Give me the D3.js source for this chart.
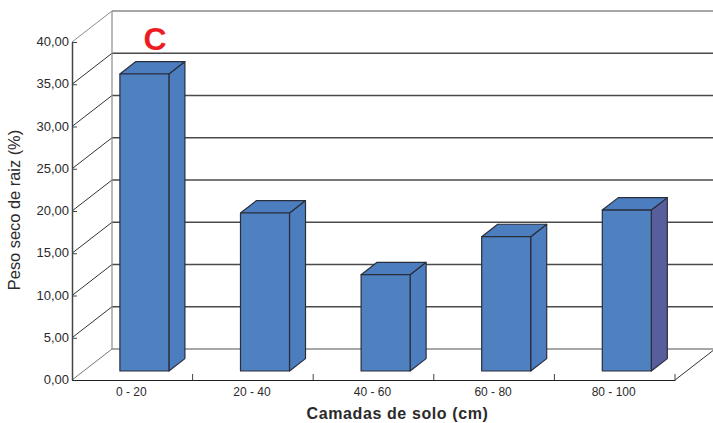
<!DOCTYPE html>
<html>
<head>
<meta charset="utf-8">
<script src="https://cdn.jsdelivr.net/npm/d3@7"></script>
<style>
html,body{margin:0;padding:0;background:#fff}
svg{display:block}
text{font-family:"Liberation Sans",Arial,sans-serif;fill:#2b2a2b}
</style>
</head>
<body>
<svg id="chart" width="713" height="423"></svg>
<script>
const categories = ["0 - 20","20 - 40","40 - 60","60 - 80","80 - 100"];
const rootWeight = [35.15,18.7,11.4,15.9,19.05];
const yTicks = [0,5,10,15,20,25,30,35,40];
const sideColors = ["#4c7ebf","#4c7ebf","#4c7ebf","#4c7ebf","#585e9c"];

const svg = d3.select("#chart");
const x = d3.scaleBand().domain(categories).range([72,675]);
const y = d3.scaleLinear().domain([0,40]).range([380,42]);

// Oblique projection: depth 0 is the front plane, depth 1 the back wall
const DX = 40, DY = -31;
const px = (xv,d) => xv + DX*d;
const py = (yv,d) => yv + DY*d;
const fmt = v => d3.format(".2f")(v).replace(".",",");

// Back wall, side wall and floor
const grid = svg.append("g").attr("fill","none");
yTicks.forEach(t=>{
  const top = t===40, bottom = t===0;
  const c = top ? "#8c8c8c" : (bottom ? "#777" : "#333");
  grid.append("line").attr("x1",px(72,0)).attr("y1",y(t))
    .attr("x2",px(72,1)).attr("y2",py(y(t),1))
    .attr("stroke",c).attr("stroke-width",1);
  grid.append("line").attr("x1",px(72,1)).attr("y1",py(y(t),1))
    .attr("x2",713).attr("y2",py(y(t),1))
    .attr("stroke",top||bottom ? "#8a8a8a" : "#4a4a4a").attr("stroke-width",1.3);
});
grid.append("line").attr("x1",px(72,1)).attr("y1",py(y(0),1))
  .attr("x2",px(72,1)).attr("y2",py(y(40),1))
  .attr("stroke","#8c8c8c").attr("stroke-width",1.2);
grid.append("line").attr("x1",675).attr("y1",380)
  .attr("x2",px(675,1)).attr("y2",py(380,1))
  .attr("stroke","#333").attr("stroke-width",1);

// Axes
const yAxis = d3.axisLeft(y).tickValues(yTicks).tickFormat(fmt).tickSize(0).tickPadding(3);
const gy = svg.append("g").attr("transform","translate(72,0)").call(yAxis);
gy.select(".domain").attr("stroke","#444").attr("stroke-width",1.5);
gy.selectAll("text").attr("font-size",13).attr("dy","0.28em");
gy.selectAll(".tick").append("line").attr("x1",0).attr("x2",5).attr("stroke","#444").attr("stroke-width",1);

const xAxis = d3.axisBottom(x).tickSize(0).tickPadding(7);
const gx = svg.append("g").attr("transform","translate(0,380)").call(xAxis);
gx.select(".domain").attr("stroke","#222").attr("stroke-width",1.2);
gx.selectAll("text").attr("font-size",12).attr("dy","0.71em").attr("dx",-1);
gx.selectAll(".sep").data(categories).enter().append("line").attr("class","sep")
  .attr("x1",d=>x(d)+x.bandwidth()).attr("x2",d=>x(d)+x.bandwidth())
  .attr("y1",0).attr("y2",-6).attr("stroke","#444").attr("stroke-width",1);

// Bars as three-faced prisms standing between two depth planes
const D0 = 0.29, D1 = 0.69, BAR_W = 49;
const bars = svg.append("g").selectAll("g").data(categories).enter().append("g")
  .attr("stroke","#2a2d3a").attr("stroke-width",1.2).attr("stroke-linejoin","round");
const line = d3.line();
bars.each(function(c,i){
  const g = d3.select(this);
  const xl = x(c)+x.bandwidth()/2-BAR_W/2+0.5, xr = xl+BAR_W;
  const yb = y(0), yt = y(rootWeight[i]);
  g.append("path").attr("fill",sideColors[i]).attr("d",line([
    [px(xr,D0),py(yb,D0)],[px(xr,D1),py(yb,D1)],[px(xr,D1),py(yt,D1)],[px(xr,D0),py(yt,D0)]
  ])+"Z");
  g.append("path").attr("fill","#4c7ebf").attr("d",line([
    [px(xl,D0),py(yt,D0)],[px(xr,D0),py(yt,D0)],[px(xr,D1),py(yt,D1)],[px(xl,D1),py(yt,D1)]
  ])+"Z");
  g.append("path").attr("fill","#4f80c0").attr("d",line([
    [px(xl,D0),py(yb,D0)],[px(xr,D0),py(yb,D0)],[px(xr,D0),py(yt,D0)],[px(xl,D0),py(yt,D0)]
  ])+"Z");
});

// Titles and panel letter
svg.append("text").attr("x",397.5).attr("y",419).attr("text-anchor","middle")
  .attr("font-size",16).attr("font-weight","bold").attr("letter-spacing",0.6)
  .text("Camadas de solo (cm)");
svg.append("text").attr("transform","translate(20,210) rotate(-90)").attr("text-anchor","middle")
  .attr("font-size",16.4).text("Peso seco de raiz (%)");
svg.append("text").attr("x",155).attr("y",50).attr("text-anchor","middle")
  .attr("font-size",32).attr("font-weight","bold").style("fill","#ed1c24").text("C");
</script>
</body>
</html>
